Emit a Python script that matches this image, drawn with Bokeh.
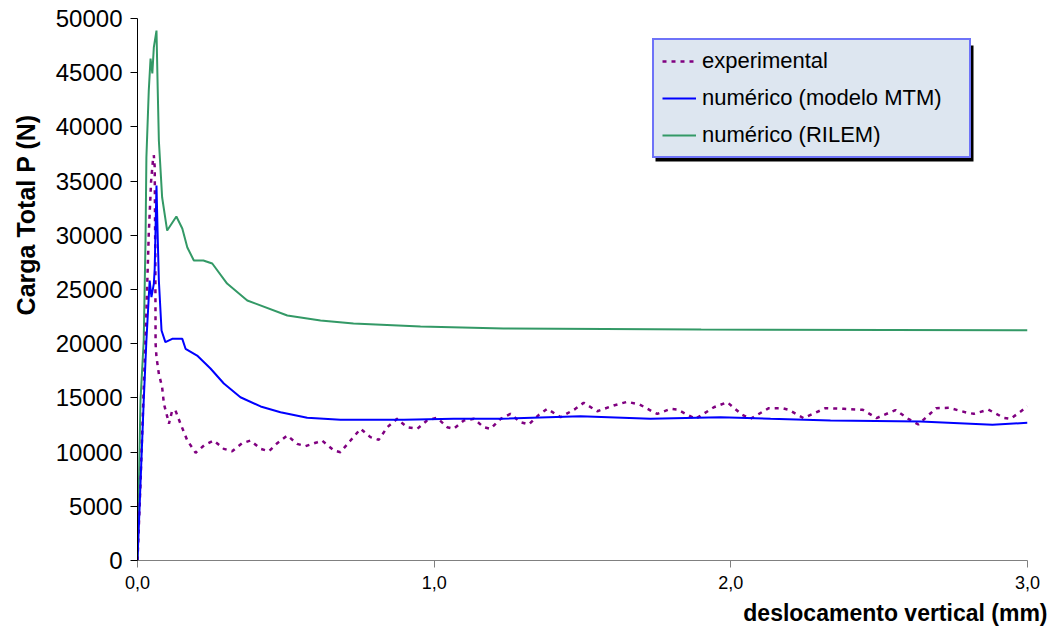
import math
from bokeh.plotting import figure
from bokeh.models import Range1d, FixedTicker, Legend, LegendItem, Title, BoxAnnotation
from bokeh.embed import file_html
from bokeh.resources import INLINE

# ---------------- data ----------------
exp_x = [0, 0.010, 0.021, 0.027, 0.038, 0.046, 0.052, 0.055, 0.058, 0.060,
         0.061, 0.064, 0.072, 0.083, 0.089, 0.100, 0.106, 0.117, 0.128, 0.145,
         0.168, 0.196, 0.224, 0.257, 0.291, 0.319, 0.353, 0.381, 0.415, 0.443,
         0.471, 0.505, 0.538, 0.566, 0.606, 0.622, 0.662, 0.684, 0.718, 0.752,
         0.785, 0.813, 0.842, 0.875, 0.909, 0.943, 0.976, 1.010, 1.044, 1.066,
         1.100, 1.134, 1.167, 1.190, 1.224, 1.257, 1.291, 1.319, 1.353, 1.381,
         1.426, 1.476, 1.504, 1.550, 1.605, 1.651, 1.693, 1.735, 1.752, 1.797,
         1.819, 1.881, 1.943, 1.988, 2.038, 2.066, 2.128, 2.173, 2.195, 2.245,
         2.319, 2.381, 2.445, 2.491, 2.555, 2.598, 2.632, 2.692, 2.735, 2.797,
         2.819, 2.868, 2.920, 2.943, 3.0]
exp_y = [0, 7000, 15900, 20300, 30140, 35050, 36900, 37400, 36300, 28000,
         20000, 18750, 17220, 15990, 14460, 13300, 12610, 13840, 13840, 12610,
         11070, 9940, 10610, 11070, 10300, 10080, 10820, 11070, 10300, 10080,
         10820, 11530, 10760, 10540, 10910, 11070, 10150, 9990, 11070, 12150,
         11380, 11130, 12300, 13070, 12300, 12150, 12920, 13160, 12300, 12150,
         12920, 13070, 12300, 12150, 13070, 13530, 12760, 12550, 13440, 13990,
         13220, 13990, 14550, 13770, 14300, 14640, 14390, 13750, 13530, 13990,
         13930, 13070, 14140, 14600, 13440, 13070, 14050, 14050, 13900, 13140,
         14050, 13990, 13900, 13140, 13880, 13070, 12550, 14050, 14090, 13630,
         13530, 13920, 13160, 13070, 14210]

mtm_x = [0, 0.021, 0.030, 0.041, 0.047, 0.055, 0.058, 0.064, 0.068, 0.072,
         0.081, 0.094, 0.117, 0.151, 0.162, 0.201, 0.246, 0.291, 0.347, 0.415,
         0.482, 0.572, 0.684, 0.898, 1.066, 1.224, 1.493, 1.729, 1.965, 2.134,
         2.336, 2.639, 2.882, 3.0]
mtm_y = [0, 14760, 20300, 25830, 24290, 25520, 26910, 34590, 30000, 25830,
         21220, 20140, 20450, 20450, 19530, 18910, 17710, 16330, 15060, 14210,
         13680, 13160, 12980, 12980, 13070, 13070, 13310, 13070, 13220, 13070,
         12915, 12820, 12520, 12700]

rilem_x = [0, 0.010, 0.021, 0.027, 0.030, 0.038, 0.044, 0.050, 0.055, 0.064,
           0.068, 0.072, 0.083, 0.100, 0.131, 0.151, 0.168, 0.190, 0.222, 0.252,
           0.302, 0.370, 0.505, 0.617, 0.728, 0.954, 1.234, 1.900, 3.0]
rilem_y = [0, 14760, 20300, 29520, 37200, 43360, 46310, 44930, 47330, 48890,
           43630, 38750, 33510, 30440, 31730, 30630, 28870, 27680, 27680, 27400,
           25550, 23990, 22600, 22140, 21860, 21590, 21400, 21300, 21250]

series_names = ["experimental", "numérico (modelo MTM)", "numérico (RILEM)"]
x_ticks = [0, 1, 2, 3]
x_tick_labels = ["0,0", "1,0", "2,0", "3,0"]
y_ticks = list(range(0, 50001, 5000))
x_title = "deslocamento vertical (mm)"
y_title = "Carga Total P  (N)"

FONT = "Liberation Sans"

p = figure(width=1047, height=635, output_backend="svg", toolbar_location=None,
           x_range=Range1d(0, 3), y_range=Range1d(0, 50000),
           min_border_left=137, min_border_right=20, min_border_top=18,
           min_border_bottom=75)
p.background_fill_color = "white"
p.border_fill_color = "white"
p.outline_line_color = None
p.xgrid.visible = False
p.ygrid.visible = False

r_ril = p.line(rilem_x, rilem_y, line_color="#339966", line_width=2)
r_exp = p.line(exp_x, exp_y, line_color="#800080", line_width=2.5, line_dash="4 5")
r_mtm = p.line(mtm_x, mtm_y, line_color="#0000FF", line_width=2)

# axes
xa = p.xaxis[0]
xa.ticker = FixedTicker(ticks=x_ticks)
xa.major_label_overrides = {t: l for t, l in zip(x_ticks, x_tick_labels)}
xa.minor_tick_line_color = None
xa.major_tick_in = 0
xa.major_tick_out = 7
xa.axis_line_color = "#808080"
xa.major_tick_line_color = "#808080"
xa.major_label_text_font = FONT
xa.major_label_text_font_size = "18px"
xa.major_label_text_color = "black"
xa.major_label_standoff = 8

ya = p.yaxis[0]
ya.ticker = FixedTicker(ticks=y_ticks)
ya.major_label_overrides = {t: str(t) for t in y_ticks}
ya.minor_tick_line_color = None
ya.major_tick_in = 0
ya.major_tick_out = 7
ya.axis_line_color = "black"
ya.major_tick_line_color = "black"
ya.major_label_text_font = FONT
ya.major_label_text_font_size = "24px"
ya.major_label_text_color = "black"
ya.major_label_standoff = 8

# axis titles
p.add_layout(Title(text=y_title, align="right", offset=89, standoff=22,
                   vertical_align="top",
                   text_font=FONT, text_font_style="bold", text_font_size="25px",
                   text_color="black"), "left")
p.add_layout(Title(text=x_title, align="right", offset=-20, standoff=12,
                   vertical_align="bottom",
                   text_font=FONT, text_font_style="bold", text_font_size="23px",
                   text_color="black"), "below")

# legend shadow
p.add_layout(BoxAnnotation(left=518, right=836, bottom=399, top=515,
                           left_units="screen", right_units="screen",
                           bottom_units="screen", top_units="screen",
                           fill_color="black", fill_alpha=1.0, line_color=None,
                           level="overlay"))

legend = Legend(items=[LegendItem(label=series_names[0], renderers=[r_exp]),
                       LegendItem(label=series_names[1], renderers=[r_mtm]),
                       LegendItem(label=series_names[2], renderers=[r_ril])],
                location=(515, 402))
legend.background_fill_color = "#DDE6F0"
legend.background_fill_alpha = 1.0
legend.border_line_color = "#0000FF"
legend.border_line_width = 2
legend.label_text_font = FONT
legend.label_text_font_size = "22px"
legend.label_text_color = "black"
legend.padding = 8
legend.spacing = 11
legend.label_height = 26
legend.glyph_height = 26
legend.glyph_width = 34
legend.label_standoff = 6
legend.label_width = 259
legend.margin = 0
p.add_layout(legend, "center")

open("out.html", "w").write(file_html(p, INLINE))
